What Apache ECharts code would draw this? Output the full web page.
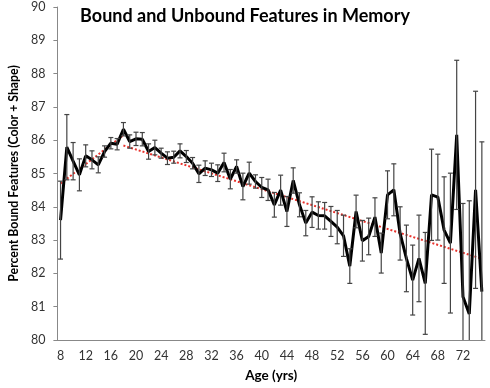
<!DOCTYPE html>
<html>
<head>
<meta charset="utf-8">
<script src="https://cdn.jsdelivr.net/npm/echarts@6/dist/echarts.min.js"></script>
<style>
  html, body { margin: 0; padding: 0; background: #fff; }
  #chart { width: 490px; height: 388px; }
</style>
</head>
<body>
<div id="chart"></div>
<script>
  // ages on the category axis
  const ages = ['8', '9', '10', '11', '12', '13', '14', '15', '16', '17', '18', '19', '20', '21',
    '22', '23', '24', '25', '26', '27', '28', '29', '30', '31', '32', '33', '34', '35', '36', '37',
    '38', '39', '40', '41', '42', '43', '44', '45', '46', '47', '48', '49', '50', '51', '52', '53',
    '54', '55', '56', '57', '58', '59', '60', '61', '62', '63', '64', '65', '66', '67', '68', '69',
    '70', '71', '72', '73', '74', '75']
  // percent bound features per age
  const means = [83.6, 85.79, 85.37, 84.96, 85.53, 85.41, 85.26, 85.66, 85.91, 85.88, 86.33, 85.96,
    86.04, 86.03, 85.66, 85.78, 85.61, 85.46, 85.49, 85.68, 85.51, 85.31, 84.99, 85.16, 85.11, 85.01,
    85.33, 84.83, 85.21, 84.61, 85.01, 84.76, 84.58, 84.51, 84.06, 84.5, 83.86, 84.79, 84.06, 83.51,
    83.84, 83.74, 83.73, 83.56, 83.39, 83.13, 82.22, 83.86, 82.98, 83.11, 83.69, 82.61, 84.36, 84.51,
    83.2, 82.45, 81.8, 82.45, 81.7, 84.36, 84.29, 83.3, 82.91, 86.16, 81.3, 80.78, 84.51, 81.45]
  // error bar half-lengths
  const errors = [1.17, 0.98, 0.56, 0.48, 0.33, 0.27, 0.24, 0.17, 0.17, 0.17, 0.2, 0.2, 0.2, 0.2,
    0.23, 0.22, 0.15, 0.19, 0.18, 0.21, 0.18, 0.17, 0.26, 0.22, 0.2, 0.25, 0.28, 0.29, 0.2, 0.4,
    0.33, 0.2, 0.3, 0.32, 0.37, 0.45, 0.45, 0.38, 0.36, 0.38, 0.46, 0.41, 0.4, 0.45, 0.5, 0.62,
    0.52, 0.49, 0.61, 0.55, 0.58, 0.6, 0.72, 0.78, 0.8, 1.0, 1.05, 1.3, 1.53, 1.37, 1.29, 1.6,
    2.1, 2.24, 2.8, 3.4, 2.96, 4.5]
  // trend lines (young rise, then decline)
  const trendRise = [['8', 84.7], ['18', 86.15]]
  const trendFall = [['18', 85.84], ['75', 82.44]]

  const font = "Lato, 'Open Sans', sans-serif"
  const chartInstance = echarts.init(document.getElementById('chart'), null, {renderer: 'canvas'})

  const errData = means.map((m, i) => [i, m, errors[i]])

  const option = {
    animation: false,
    backgroundColor: '#fff',
    title: {
      text: 'Bound and Unbound Features in Memory',
      left: 240,
      top: 2,
      textAlign: 'center',
      textStyle: {fontFamily: font, fontSize: 18, fontWeight: 'bold', color: '#000'}
    },
    grid: {left: 49, right: 5, top: 7, bottom: 48},
    xAxis: {
      type: 'category',
      data: ages,
      boundaryGap: true,
      name: 'Age (yrs)',
      nameLocation: 'middle',
      nameGap: 29,
      nameTextStyle: {fontFamily: font, fontSize: 13.5, fontWeight: 'bold', color: '#000'},
      axisLine: {lineStyle: {color: '#888', width: 1}},
      axisTick: {interval: 3, length: 4, lineStyle: {color: '#888'}},
      axisLabel: {interval: 3, fontFamily: font, fontSize: 12.5, color: '#333', margin: 9}
    },
    yAxis: {
      type: 'value',
      min: 80,
      max: 90,
      interval: 1,
      name: 'Percent Bound Features (Color + Shape)',
      nameLocation: 'middle',
      nameGap: 34,
      nameTextStyle: {fontFamily: font, fontSize: 12.3, fontWeight: 'bold', color: '#000'},
      axisLine: {show: true, lineStyle: {color: '#888', width: 1}},
      axisTick: {show: true, length: 4, lineStyle: {color: '#888'}},
      axisLabel: {fontFamily: font, fontSize: 12.5, color: '#333', margin: 12},
      splitLine: {show: false}
    },
    series: [
      {
        type: 'line',
        data: trendRise,
        symbol: 'none',
        lineStyle: {color: '#e8322c', width: 2, type: [2, 2]},
        z: 1
      },
      {
        type: 'line',
        data: trendFall,
        symbol: 'none',
        lineStyle: {color: '#e8322c', width: 2, type: [2, 2]},
        z: 1
      },
      {
        type: 'line',
        data: means,
        symbol: 'none',
        lineStyle: {color: '#000', width: 3},
        z: 2
      },
      {
        type: 'custom',
        data: errData,
        clip: true,
        z: 3,
        renderItem(params, api) {
          const idx = api.value(0)
          const m = api.value(1)
          const e = api.value(2)
          const top = api.coord([idx, m + e])
          const bot = api.coord([idx, m - e])
          const w = 2.5
          const style = {stroke: '#444', lineWidth: 1.2}
          return {
            type: 'group',
            children: [
              {type: 'line', shape: {x1: top[0], y1: top[1], x2: bot[0], y2: bot[1]}, style},
              {type: 'line', shape: {x1: top[0] - w, y1: top[1], x2: top[0] + w, y2: top[1]}, style},
              {type: 'line', shape: {x1: bot[0] - w, y1: bot[1], x2: bot[0] + w, y2: bot[1]}, style}
            ]
          }
        }
      }
    ]
  }
  chartInstance.setOption(option)
</script>
</body>
</html>
